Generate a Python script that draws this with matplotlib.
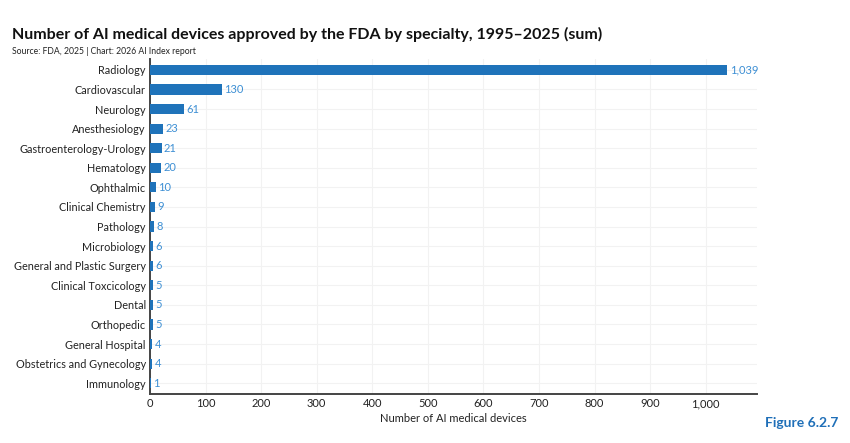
import matplotlib.pyplot as plt
import numpy as np

plt.rcParams['font.family'] = ['Lato', 'DejaVu Sans']

specialties = ["Radiology", "Cardiovascular", "Neurology", "Anesthesiology",
               "Gastroenterology-Urology", "Hematology", "Ophthalmic",
               "Clinical Chemistry", "Pathology", "Microbiology",
               "General and Plastic Surgery", "Clinical Toxcicology", "Dental",
               "Orthopedic", "General Hospital", "Obstetrics and Gynecology",
               "Immunology"]
counts = [1039, 130, 61, 23, 21, 20, 10, 9, 8, 6, 6, 5, 5, 5, 4, 4, 1]
xticks = [0, 100, 200, 300, 400, 500, 600, 700, 800, 900, 1000]

bar_color = "#1f73ba"
label_color = "#3d8fd4"

fig = plt.figure(figsize=(8.5, 4.43), dpi=100)
ax = fig.add_axes([0.1765, 0.1106, 0.714, 0.756])

y = np.arange(len(specialties))
ax.barh(y, counts, height=0.52, color=bar_color, zorder=3)
for yi, c in zip(y, counts):
    ax.text(c + 4, yi, f"{c:,}", va="center", ha="left", fontsize=8,
            color=label_color, zorder=4)

ax.set_yticks(y)
ax.set_yticklabels(specialties, fontsize=7.8, color="#222222")
ax.set_ylim(len(specialties) - 0.45, -0.55)
ax.set_xlim(0, 1092)
ax.set_xticks(xticks)
ax.set_xticklabels([f"{t:,}" for t in xticks], fontsize=8, color="#222222")
ax.set_xlabel("Number of AI medical devices", fontsize=8, color="#222222", labelpad=3)

ax.tick_params(axis="both", length=0, pad=3)
ax.grid(True, color="#f2f2f2", linewidth=0.8, zorder=0)
ax.set_axisbelow(True)
for s in ["top", "right"]:
    ax.spines[s].set_visible(False)
for s in ["left", "bottom"]:
    ax.spines[s].set_color("#444444")
    ax.spines[s].set_linewidth(1.4)

fig.text(0.014, 0.912, "Number of AI medical devices approved by the FDA by specialty, 1995\u20132025 (sum)",
         fontsize=11.5, fontweight="bold", color="#111111", va="baseline")
fig.text(0.014, 0.878, "Source: FDA, 2025 | Chart: 2026 AI Index report",
         fontsize=6.2, color="#222222", va="baseline")
fig.text(0.986, 0.035, "Figure 6.2.7", fontsize=10, fontweight="bold",
         color="#1f6fb8", ha="right", va="baseline")

fig.savefig("out.png", dpi=100)
